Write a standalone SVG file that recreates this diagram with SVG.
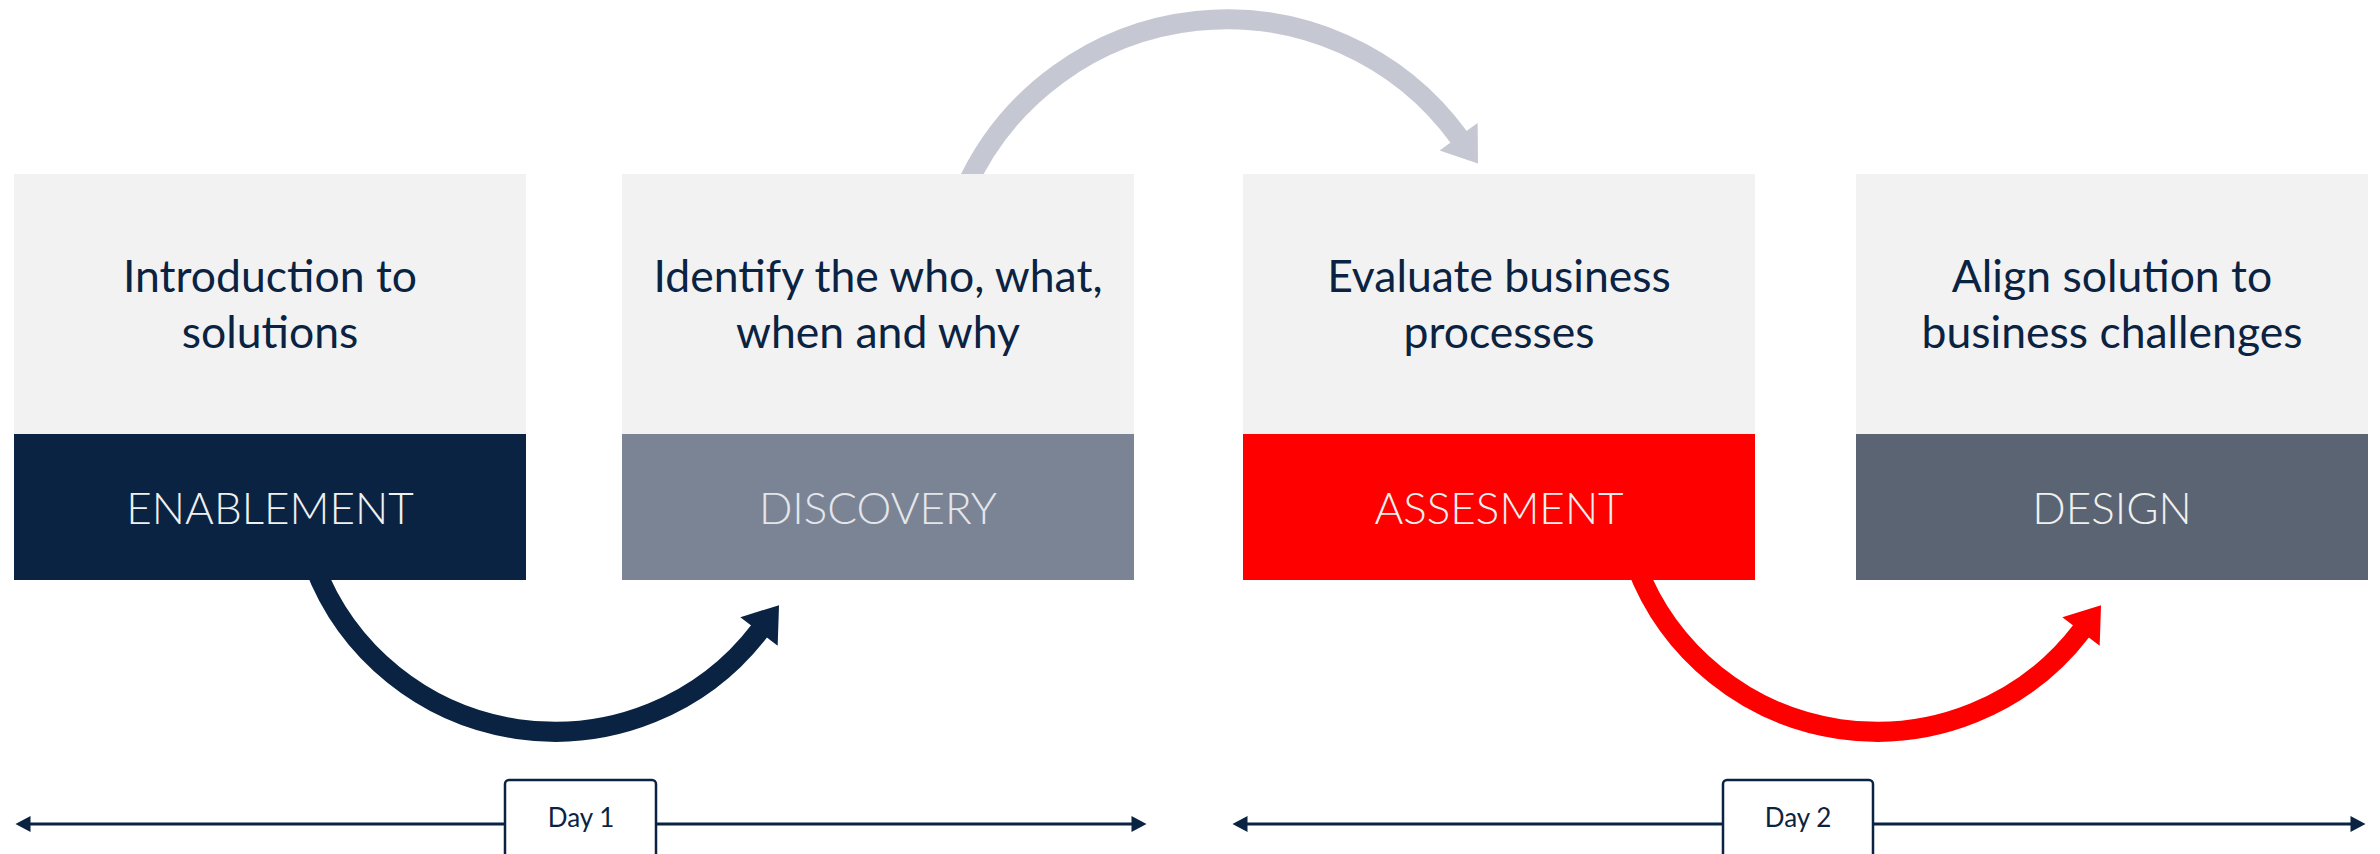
<svg xmlns="http://www.w3.org/2000/svg" width="2380" height="854" viewBox="0 0 2380 854">
  <style>
    .top { fill: #f2f2f2; }
    .desc { font-family: Lato, "Liberation Sans", sans-serif; font-size: 44.5px; fill: #0b2343; text-anchor: middle; }
    .lbl { font-family: Lato, "Liberation Sans", sans-serif; font-weight: 300; font-size: 44px; fill: #f0f0f0; text-anchor: middle; }
    .arc { fill: none; stroke-width: 20; }
    .tl { stroke: #0b2343; stroke-width: 3; fill: none; }
    .daybox { fill: #ffffff; stroke: #0b2343; stroke-width: 2.5; }
    .day { font-family: Lato, "Liberation Sans", sans-serif; font-size: 26px; fill: #0b2343; text-anchor: middle; }
  </style>
  <defs>
    <marker id="headNavy" markerUnits="userSpaceOnUse" viewBox="0 -24 34 48" markerWidth="34" markerHeight="48" refX="1" refY="0" orient="auto" overflow="visible">
      <path d="M0,-23.5 L33,0 L0,23.5 Z" fill="#0b2343"/>
    </marker>
    <marker id="headRed" markerUnits="userSpaceOnUse" viewBox="0 -24 34 48" markerWidth="34" markerHeight="48" refX="1" refY="0" orient="auto" overflow="visible">
      <path d="M0,-23.5 L33,0 L0,23.5 Z" fill="#ff0000"/>
    </marker>
    <marker id="headGray" markerUnits="userSpaceOnUse" viewBox="0 -24 34 48" markerWidth="34" markerHeight="48" refX="1" refY="0" orient="auto" overflow="visible">
      <path d="M0,-23.5 L33,0 L0,23.5 Z" fill="#c5c7d2"/>
    </marker>
    <marker id="tlEnd" markerUnits="userSpaceOnUse" viewBox="0 -8 16 16" markerWidth="16" markerHeight="16" refX="0.5" refY="0" orient="auto-start-reverse" overflow="visible">
      <path d="M0,-8 L15,0 L0,8 Z" fill="#0b2343"/>
    </marker>
  </defs>

  <g id="connectors">
    <path class="arc" stroke="#0b2343" d="M 314 565 A 257.5 257.5 0 0 0 759.6 630.6" marker-end="url(#headNavy)"/>
    <path class="arc" stroke="#ff0000" d="M 1636 565 A 257.5 257.5 0 0 0 2081.6 630.6" marker-end="url(#headRed)"/>
    <path class="arc" stroke="#c5c7d2" d="M 964.6 190 A 287 287 0 0 1 1459.2 137.6" marker-end="url(#headGray)"/>
    <line class="tl" x1="30" y1="824" x2="1132" y2="824" marker-start="url(#tlEnd)" marker-end="url(#tlEnd)"/>
    <line class="tl" x1="1247" y1="824" x2="2351" y2="824" marker-start="url(#tlEnd)" marker-end="url(#tlEnd)"/>
  </g>

  <g id="node-enablement">
    <rect class="top" x="14" y="174" width="512" height="260"/>
    <rect x="14" y="434" width="512" height="146" fill="#0b2343"/>
    <text class="desc" x="270" y="292">Introduction to</text>
    <text class="desc" x="270" y="348">solutions</text>
    <text class="lbl" x="270" y="524">ENABLEMENT</text>
  </g>

  <g id="node-discovery">
    <rect class="top" x="622" y="174" width="512" height="260"/>
    <rect x="622" y="434" width="512" height="146" fill="#7b8495"/>
    <text class="desc" x="878" y="292">Identify the who, what,</text>
    <text class="desc" x="878" y="348">when and why</text>
    <text class="lbl" x="878" y="524" style="fill:#e4e6ea">DISCOVERY</text>
  </g>

  <g id="node-assesment">
    <rect class="top" x="1243" y="174" width="512" height="260"/>
    <rect x="1243" y="434" width="512" height="146" fill="#ff0000"/>
    <text class="desc" x="1499" y="292">Evaluate business</text>
    <text class="desc" x="1499" y="348">processes</text>
    <text class="lbl" x="1499" y="524">ASSESMENT</text>
  </g>

  <g id="node-design">
    <rect class="top" x="1856" y="174" width="512" height="260"/>
    <rect x="1856" y="434" width="512" height="146" fill="#5b6472"/>
    <text class="desc" x="2112" y="292">Align solution to</text>
    <text class="desc" x="2112" y="348">business challenges</text>
    <text class="lbl" x="2112" y="524">DESIGN</text>
  </g>

  <g id="node-day1">
    <rect class="daybox" x="505" y="780" width="151" height="100" rx="4"/>
    <text class="day" x="581" y="827">Day 1</text>
  </g>

  <g id="node-day2">
    <rect class="daybox" x="1723" y="780" width="150" height="100" rx="4"/>
    <text class="day" x="1798" y="827">Day 2</text>
  </g>
</svg>
